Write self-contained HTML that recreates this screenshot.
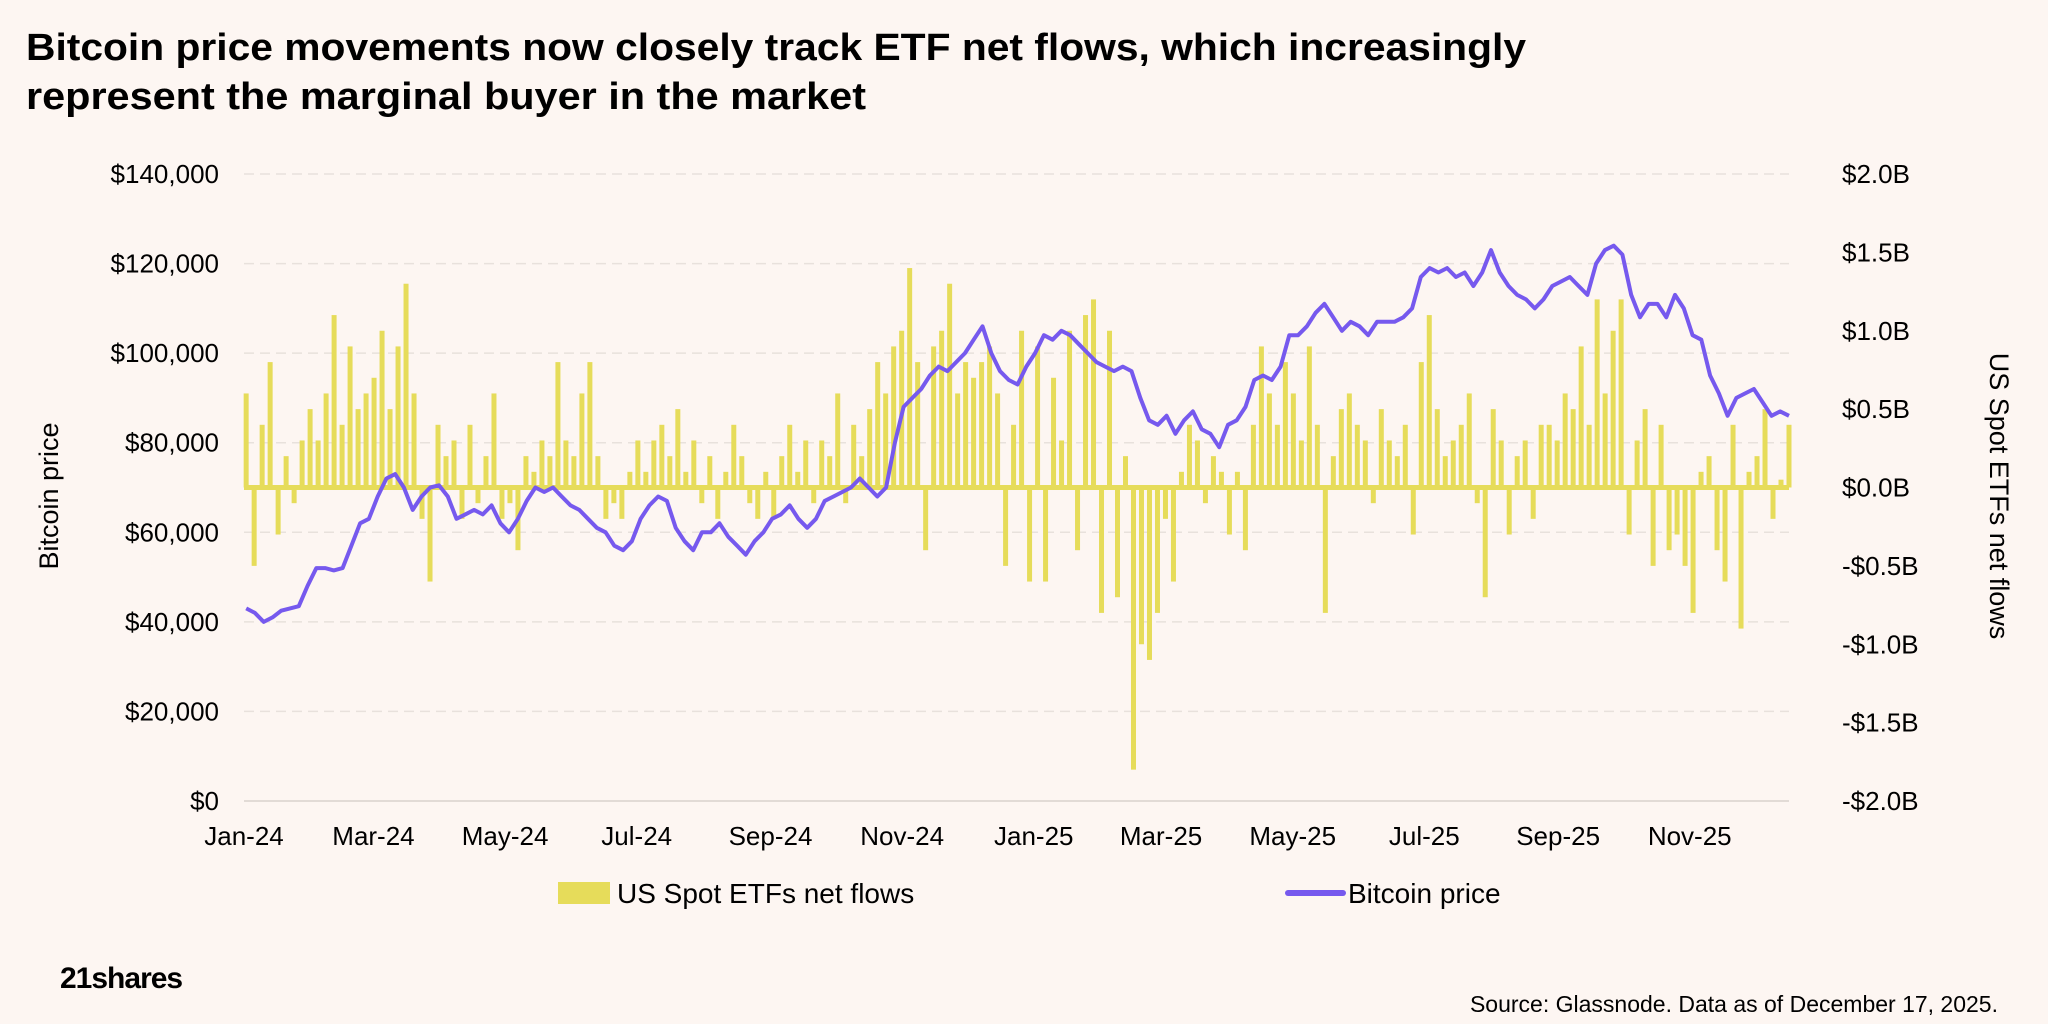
<!DOCTYPE html>
<html><head><meta charset="utf-8">
<style>
html,body{margin:0;padding:0;background:#fdf6f2;}
svg{display:block;font-family:"Liberation Sans",sans-serif;}
</style></head>
<body>
<svg id="chart" width="2048" height="1024" viewBox="0 0 2048 1024" xmlns="http://www.w3.org/2000/svg">
<rect width="2048" height="1024" fill="#fdf6f2"/>
<text x="26" y="60" font-size="38" font-weight="bold" fill="#000" textLength="1500" lengthAdjust="spacingAndGlyphs">Bitcoin price movements now closely track ETF net flows, which increasingly</text>
<text x="26" y="109" font-size="38" font-weight="bold" fill="#000" textLength="840" lengthAdjust="spacingAndGlyphs">represent the marginal buyer in the market</text>
<g id="grid"></g>
<g id="bars"></g>
<g id="line"></g>
<g id="axes"></g>
<text transform="translate(58,496) rotate(-90)" text-anchor="middle" font-size="27" fill="#000">Bitcoin price</text>
<text transform="translate(1990,496) rotate(90)" text-anchor="middle" font-size="27" fill="#000">US Spot ETFs net flows</text>
<g>
<rect x="558" y="882" width="52" height="22" fill="#e6dc5a"/>
<text x="617" y="903" font-size="28" fill="#000">US Spot ETFs net flows</text>
<line x1="1288" y1="893" x2="1343" y2="893" stroke="#7659ee" stroke-width="6" stroke-linecap="round"/>
<text x="1348" y="903" font-size="28" fill="#000">Bitcoin price</text>
</g>
<text x="60" y="988" font-size="30" font-weight="bold" fill="#000" letter-spacing="-1">21shares</text>
<text x="1998" y="1012" text-anchor="end" font-size="23" fill="#000">Source: Glassnode. Data as of December 17, 2025.</text>
</svg>
<script>
const priceTicks=[0,20000,40000,60000,80000,100000,120000,140000];
const priceTickLabels=["$0","$20,000","$40,000","$60,000","$80,000","$100,000","$120,000","$140,000"];
const flowTicks=[-2,-1.5,-1,-0.5,0,0.5,1,1.5,2];
const flowTickLabels=["-$2.0B","-$1.5B","-$1.0B","-$0.5B","$0.0B","$0.5B","$1.0B","$1.5B","$2.0B"];
const monthLabels=["Jan-24","Mar-24","May-24","Jul-24","Sep-24","Nov-24","Jan-25","Mar-25","May-25","Jul-25","Sep-25","Nov-25"];
const monthDates=["2024-01-01","2024-03-01","2024-05-01","2024-07-01","2024-09-01","2024-11-01","2025-01-01","2025-03-01","2025-05-01","2025-07-01","2025-09-01","2025-11-01"];
const startDate="2024-01-02", endDate="2025-12-17";
// Bitcoin price (USD), evenly spaced from startDate to endDate
const priceValues=[43000,42000,40000,41000,42500,43000,43500,48000,52000,52000,51500,52000,57000,62000,63000,68000,72000,73000,70000,65000,68000,70000,70500,68000,63000,64000,65000,64000,66000,62000,60000,63000,67000,70000,69000,70000,68000,66000,65000,63000,61000,60000,57000,56000,58000,63000,66000,68000,67000,61000,58000,56000,60000,60000,62000,59000,57000,55000,58000,60000,63000,64000,66000,63000,61000,63000,67000,68000,69000,70000,72000,70000,68000,70000,80000,88000,90000,92000,95000,97000,96000,98000,100000,103000,106000,100000,96000,94000,93000,97000,100000,104000,103000,105000,104000,102000,100000,98000,97000,96000,97000,96000,90000,85000,84000,86000,82000,85000,87000,83000,82000,79000,84000,85000,88000,94000,95000,94000,97000,104000,104000,106000,109000,111000,108000,105000,107000,106000,104000,107000,107000,107000,108000,110000,117000,119000,118000,119000,117000,118000,115000,118000,123000,118000,115000,113000,112000,110000,112000,115000,116000,117000,115000,113000,120000,123000,124000,122000,113000,108000,111000,111000,108000,113000,110000,104000,103000,95000,91000,86000,90000,91000,92000,89000,86000,87000,86000];
// ETF net flows ($B), evenly spaced from startDate to endDate
const flowValues=[0.6,-0.5,0.4,0.8,-0.3,0.2,-0.1,0.3,0.5,0.3,0.6,1.1,0.4,0.9,0.5,0.6,0.7,1.0,0.5,0.9,1.3,0.6,-0.2,-0.6,0.4,0.2,0.3,-0.2,0.4,-0.1,0.2,0.6,-0.2,-0.1,-0.4,0.2,0.1,0.3,0.2,0.8,0.3,0.2,0.6,0.8,0.2,-0.2,-0.1,-0.2,0.1,0.3,0.1,0.3,0.4,0.2,0.5,0.1,0.3,-0.1,0.2,-0.2,0.1,0.4,0.2,-0.1,-0.2,0.1,-0.2,0.2,0.4,0.1,0.3,-0.1,0.3,0.2,0.6,-0.1,0.4,0.2,0.5,0.8,0.6,0.9,1.0,1.4,0.8,-0.4,0.9,1.0,1.3,0.6,0.8,0.7,0.8,0.9,0.6,-0.5,0.4,1.0,-0.6,0.9,-0.6,0.7,0.3,1.0,-0.4,1.1,1.2,-0.8,1.0,-0.7,0.2,-1.8,-1.0,-1.1,-0.8,-0.2,-0.6,0.1,0.4,0.3,-0.1,0.2,0.1,-0.3,0.1,-0.4,0.4,0.9,0.6,0.4,0.8,0.6,0.3,0.9,0.4,-0.8,0.2,0.5,0.6,0.4,0.3,-0.1,0.5,0.3,0.2,0.4,-0.3,0.8,1.1,0.5,0.2,0.3,0.4,0.6,-0.1,-0.7,0.5,0.3,-0.3,0.2,0.3,-0.2,0.4,0.4,0.3,0.6,0.5,0.9,0.4,1.2,0.6,1.0,1.2,-0.3,0.3,0.5,-0.5,0.4,-0.4,-0.3,-0.5,-0.8,0.1,0.2,-0.4,-0.6,0.4,-0.9,0.1,0.2,0.5,-0.2,0.05,0.4];

const NS="http://www.w3.org/2000/svg";
const X0=244,X1=1789,YT=174,YB=801;
const t0=new Date("2024-01-01").getTime(), t1=new Date("2025-12-17").getTime();
const xDate=d=>X0+(new Date(d).getTime()-t0)/(t1-t0)*(X1-X0);
const yPrice=v=>YB-v/140000*(YB-YT);
const yFlow=v=>(YB+YT)/2-v/4*(YB-YT);
const s0=new Date(startDate).getTime(), s1=new Date(endDate).getTime();
const xIdx=(i,n)=>X0+((s0+(s1-s0)*i/(n-1))-t0)/(t1-t0)*(X1-X0);
function mk(tag,attrs,parent){const e=document.createElementNS(NS,tag);for(const k in attrs)e.setAttribute(k,attrs[k]);parent.appendChild(e);return e;}
const grid=document.getElementById('grid'),axes=document.getElementById('axes');
priceTicks.forEach((v,i)=>{
  const g=mk('line',{x1:X0,x2:X1,y1:yPrice(v),y2:yPrice(v),stroke:v===0?'#d9d2cd':'#e8e1dc','stroke-width':1.5,'stroke-dasharray':v===0?'':'10,6'},grid);
  
  
  const t=mk('text',{x:219,y:yPrice(v)+9,'text-anchor':'end','font-size':26,fill:'#000'},axes);
  t.textContent=priceTickLabels[i];
  
  
});
flowTicks.forEach((v,i)=>{
  const t=mk('text',{x:1842,y:yFlow(v)+9,'font-size':26,fill:'#000'},axes);
  t.textContent=flowTickLabels[i];
  
  
});
monthDates.forEach((d,i)=>{
  const t=mk('text',{x:xDate(d),y:845,'text-anchor':'middle','font-size':26,fill:'#000'},axes);
  t.textContent=monthLabels[i];
  
  
});
const bars=document.getElementById('bars');
flowValues.forEach((v,i)=>{
  const x=xIdx(i,flowValues.length), y0=yFlow(0), y=yFlow(v);
  const r=mk('rect',{x:x-2.5,y:Math.min(y,y0),width:5,height:Math.max(1,Math.abs(y-y0)),fill:'#e6dc5a'},bars);
  
  
});
const zb=mk('line',{x1:X0,x2:X1,y1:yFlow(0),y2:yFlow(0),stroke:'#e6dc5a','stroke-width':5},bars);


const pts=priceValues.map((v,i)=>xIdx(i,priceValues.length).toFixed(1)+','+yPrice(v).toFixed(1)).join(' ');
const pl=mk('polyline',{points:pts,fill:'none',stroke:'#7659ee','stroke-width':4,'stroke-linejoin':'round'},document.getElementById('line'));


</script>
</body></html>
